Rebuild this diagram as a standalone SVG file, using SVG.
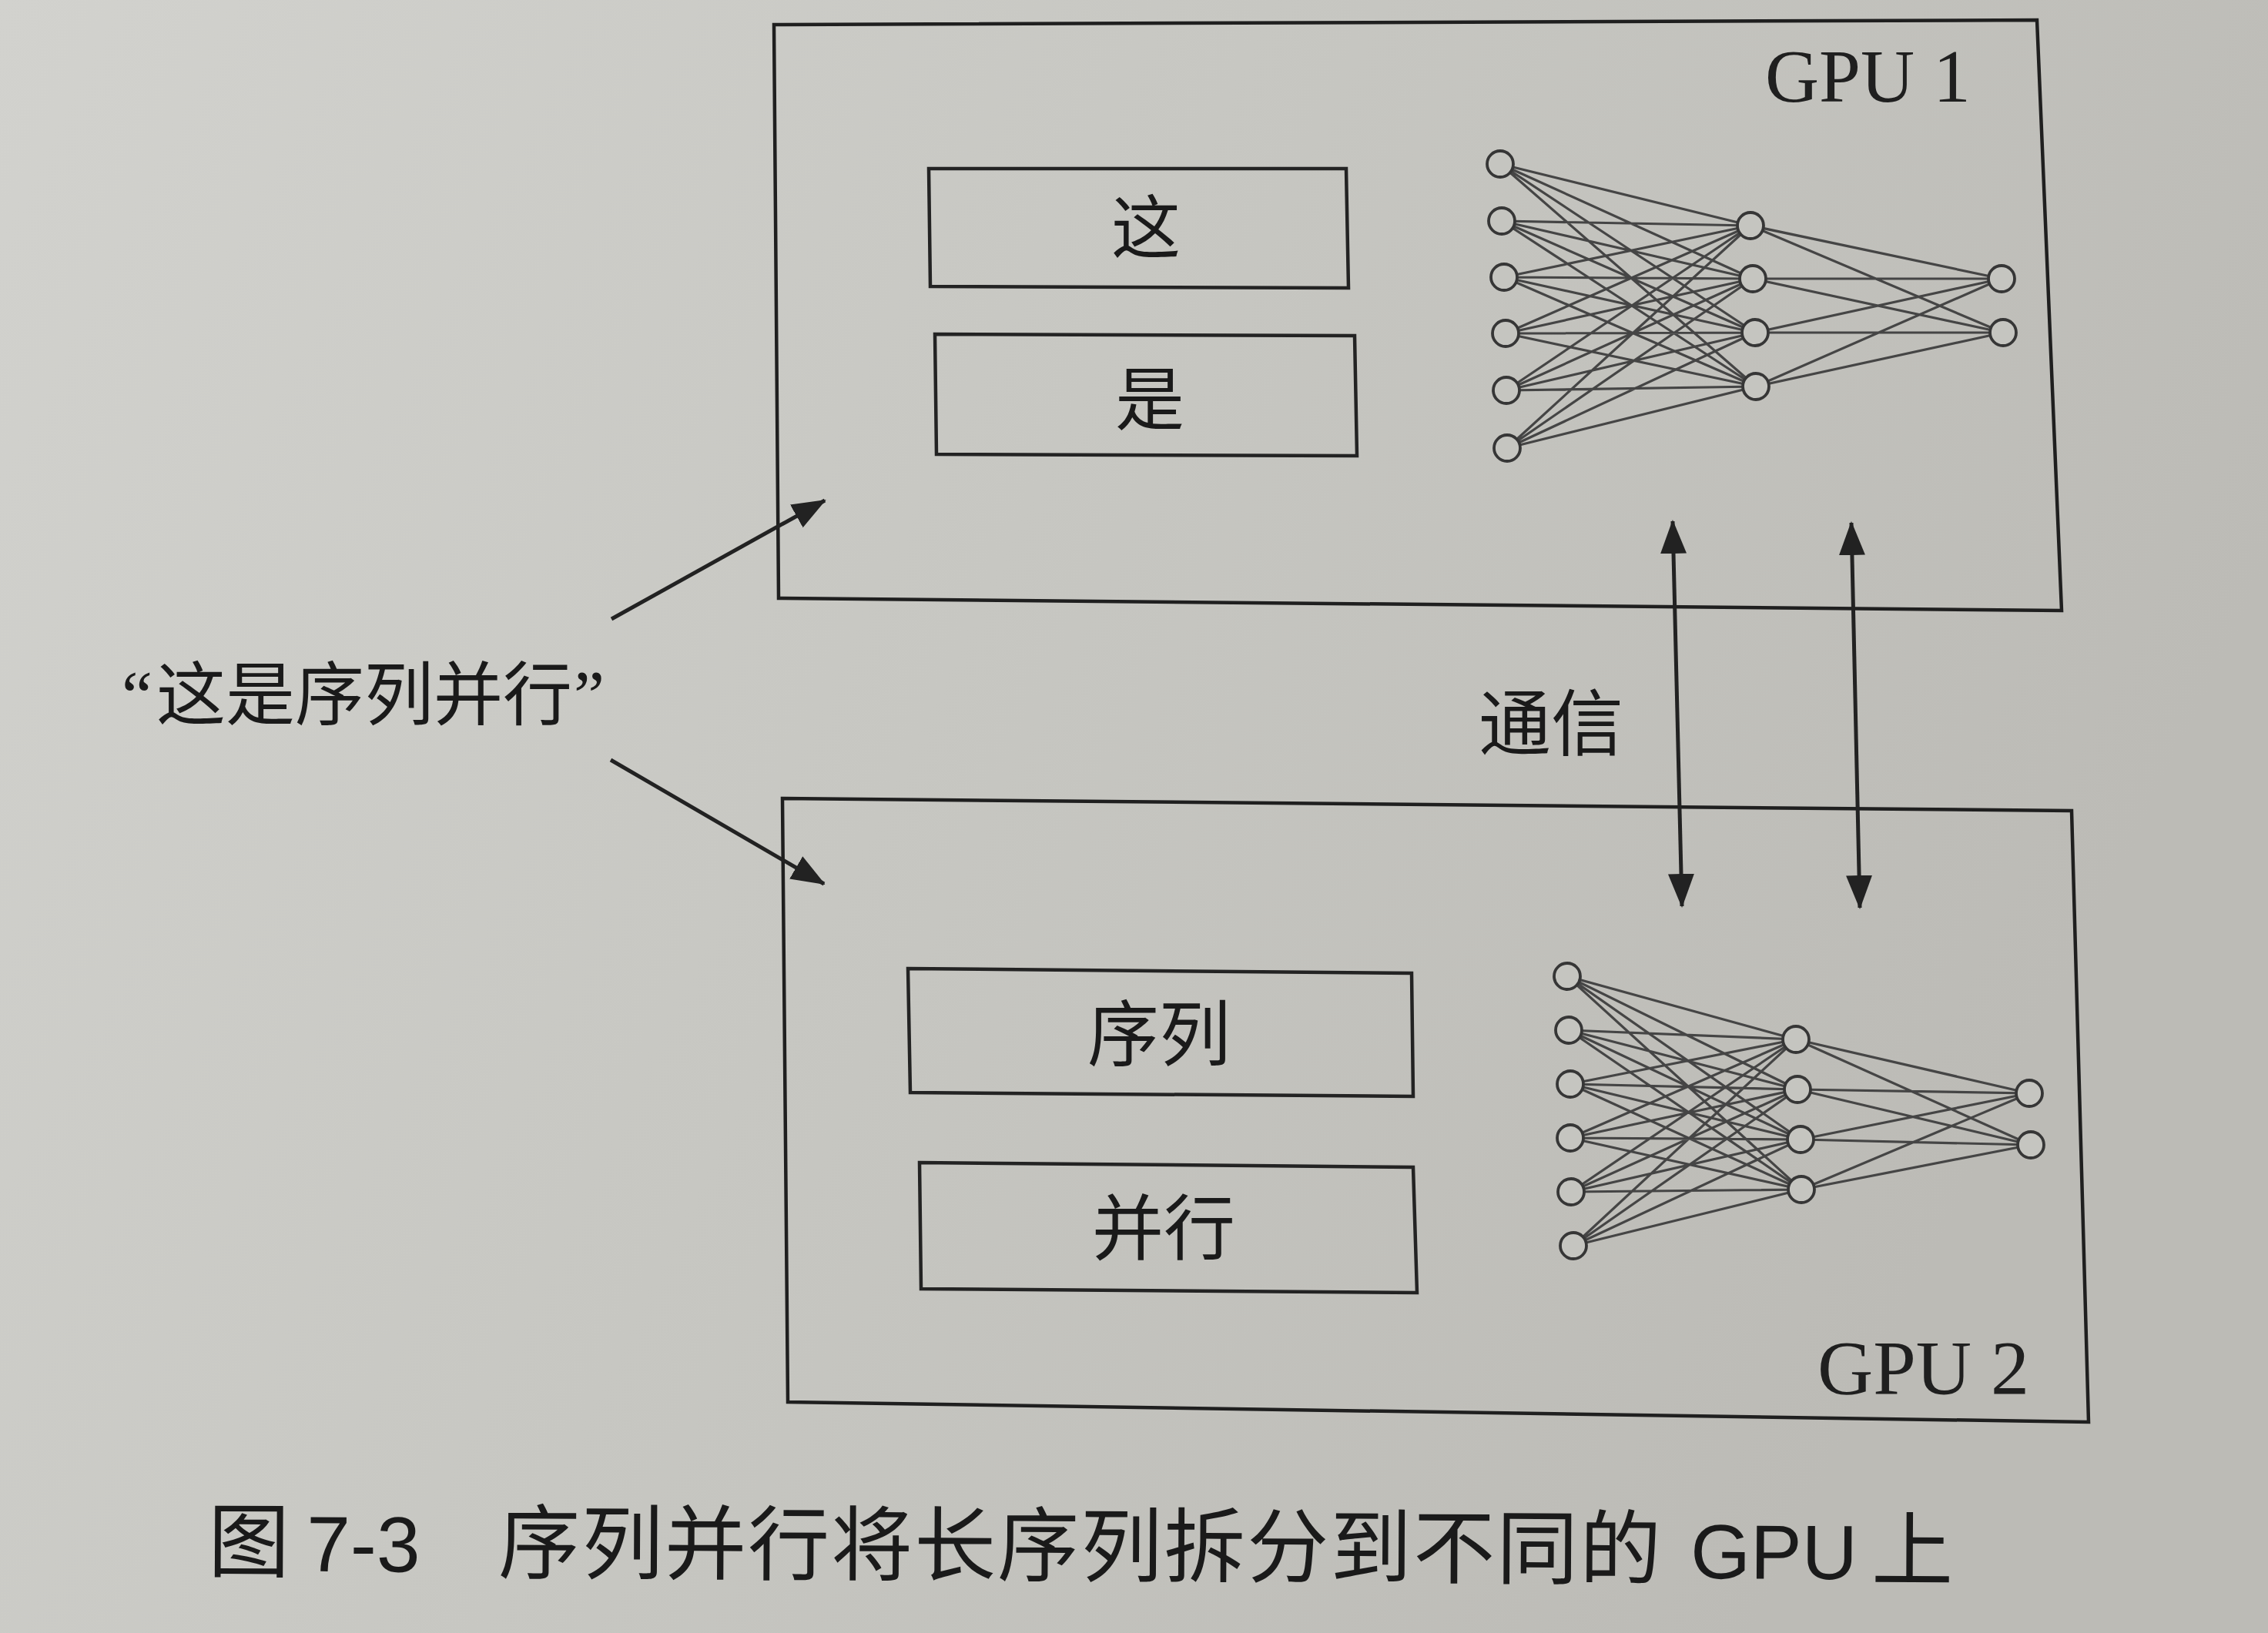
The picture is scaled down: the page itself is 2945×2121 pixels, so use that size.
<svg xmlns="http://www.w3.org/2000/svg" width="2945" height="2121" viewBox="0 0 2945 2121">
<defs>
<linearGradient id="paper" x1="0" y1="0" x2="1" y2="0.35">
<stop offset="0" stop-color="#d2d2ce"/>
<stop offset="0.5" stop-color="#c7c7c2"/>
<stop offset="1" stop-color="#bcbbb6"/>
</linearGradient>
<marker id="ah" viewBox="0 0 44 36" markerWidth="44" markerHeight="36" markerUnits="userSpaceOnUse" refX="42" refY="18" orient="auto-start-reverse">
<path d="M0,1 L44,18 L0,35 Z" fill="#222"/>
</marker>
<style>
.frame{fill:none;stroke:#1f1f1f;stroke-width:4.5;stroke-linejoin:miter}
.box{fill:none;stroke:#232323;stroke-width:4.5}
.cjk{font-family:"Noto Sans CJK SC","Noto Sans CJK TC",sans-serif;fill:#1a1a1a}
.gpu{font-family:"Liberation Serif",serif;fill:#1f1f1f}
.edge{fill:none;stroke:#454545;stroke-width:3.2}
.neuron{fill:#c5c5c0;stroke:#363636;stroke-width:3.8}
.conn{fill:none;stroke:#222;stroke-width:5}
</style>
</defs>
<rect x="0" y="0" width="2945" height="2121" fill="url(#paper)"/>

<g id="gpu1">
<path class="frame" d="M1005,32 L2645,26 L2677,793 L1011,777 Z"/>
<text class="gpu" x="2292" y="132" font-size="97">GPU 1</text>
</g>

<g id="gpu2">
<path class="frame" d="M1016,1037 L2690,1053 L2712,1847 L1023,1821 Z"/>
<text class="gpu" x="2360" y="1810" font-size="100">GPU 2</text>
</g>

<g id="box-zhe">
<path class="box" d="M1206,219 L1748,219 L1751,374 L1208,372 Z"/>
<text class="cjk" x="1488" y="328" font-size="90" text-anchor="middle">这</text>
</g>
<g id="box-shi">
<path class="box" d="M1214,434 L1759,436 L1762,592 L1216,590 Z"/>
<text class="cjk" x="1493" y="551" font-size="90" text-anchor="middle">是</text>
</g>
<g id="box-xulie">
<path class="box" d="M1179,1258 L1833,1264 L1835,1424 L1182,1419 Z"/>
<text class="cjk" x="1505" y="1377" font-size="93" text-anchor="middle">序列</text>
</g>
<g id="box-bingxing">
<path class="box" d="M1194,1510 L1835,1516 L1840,1679 L1196,1674 Z"/>
<text class="cjk" x="1511" y="1629" font-size="93" text-anchor="middle">并行</text>
</g>

<g id="nn1">
<path class="edge" d="M1948,213 L2273,293 M1948,213 L2276,362 M1948,213 L2279,432 M1948,213 L2280,502
M1950,287 L2273,293 M1950,287 L2276,362 M1950,287 L2279,432 M1950,287 L2280,502
M1953,360 L2273,293 M1953,360 L2276,362 M1953,360 L2279,432 M1953,360 L2280,502
M1955,433 L2273,293 M1955,433 L2276,362 M1955,433 L2279,432 M1955,433 L2280,502
M1956,507 L2273,293 M1956,507 L2276,362 M1956,507 L2279,432 M1956,507 L2280,502
M1957,582 L2273,293 M1957,582 L2276,362 M1957,582 L2279,432 M1957,582 L2280,502
M2273,293 L2599,362 M2273,293 L2601,432 M2276,362 L2599,362 M2276,362 L2601,432
M2279,432 L2599,362 M2279,432 L2601,432 M2280,502 L2599,362 M2280,502 L2601,432"/>
<circle class="neuron" cx="1948" cy="213" r="17"/>
<circle class="neuron" cx="1950" cy="287" r="17"/>
<circle class="neuron" cx="1953" cy="360" r="17"/>
<circle class="neuron" cx="1955" cy="433" r="17"/>
<circle class="neuron" cx="1956" cy="507" r="17"/>
<circle class="neuron" cx="1957" cy="582" r="17"/>
<circle class="neuron" cx="2273" cy="293" r="17"/>
<circle class="neuron" cx="2276" cy="362" r="17"/>
<circle class="neuron" cx="2279" cy="432" r="17"/>
<circle class="neuron" cx="2280" cy="502" r="17"/>
<circle class="neuron" cx="2599" cy="362" r="17"/>
<circle class="neuron" cx="2601" cy="432" r="17"/>
</g>

<g id="nn2">
<path class="edge" d="M2035,1268 L2332,1350 M2035,1268 L2334,1415 M2035,1268 L2338,1480 M2035,1268 L2339,1545
M2037,1338 L2332,1350 M2037,1338 L2334,1415 M2037,1338 L2338,1480 M2037,1338 L2339,1545
M2039,1408 L2332,1350 M2039,1408 L2334,1415 M2039,1408 L2338,1480 M2039,1408 L2339,1545
M2039,1478 L2332,1350 M2039,1478 L2334,1415 M2039,1478 L2338,1480 M2039,1478 L2339,1545
M2040,1548 L2332,1350 M2040,1548 L2334,1415 M2040,1548 L2338,1480 M2040,1548 L2339,1545
M2043,1618 L2332,1350 M2043,1618 L2334,1415 M2043,1618 L2338,1480 M2043,1618 L2339,1545
M2332,1350 L2635,1420 M2332,1350 L2637,1487 M2334,1415 L2635,1420 M2334,1415 L2637,1487
M2338,1480 L2635,1420 M2338,1480 L2637,1487 M2339,1545 L2635,1420 M2339,1545 L2637,1487"/>
<circle class="neuron" cx="2035" cy="1268" r="17"/>
<circle class="neuron" cx="2037" cy="1338" r="17"/>
<circle class="neuron" cx="2039" cy="1408" r="17"/>
<circle class="neuron" cx="2039" cy="1478" r="17"/>
<circle class="neuron" cx="2040" cy="1548" r="17"/>
<circle class="neuron" cx="2043" cy="1618" r="17"/>
<circle class="neuron" cx="2332" cy="1350" r="17"/>
<circle class="neuron" cx="2334" cy="1415" r="17"/>
<circle class="neuron" cx="2338" cy="1480" r="17"/>
<circle class="neuron" cx="2339" cy="1545" r="17"/>
<circle class="neuron" cx="2635" cy="1420" r="17"/>
<circle class="neuron" cx="2637" cy="1487" r="17"/>
</g>

<g id="label-sentence">
<text x="158" y="934" font-size="90"><tspan font-family="'Liberation Serif',serif" fill="#1a1a1a">“</tspan><tspan class="cjk" x="203">这是序列并行</tspan><tspan x="745" font-family="'Liberation Serif',serif" fill="#1a1a1a">”</tspan></text>
</g>

<g id="label-comm">
<text class="cjk" x="1920" y="974" font-size="94">通信</text>
</g>

<g id="connectors">
<line class="conn" x1="794" y1="804" x2="1071" y2="650" marker-end="url(#ah)"/>
<line class="conn" x1="793" y1="987" x2="1070" y2="1148" marker-end="url(#ah)"/>
<line class="conn" x1="2172" y1="677" x2="2184" y2="1177" marker-start="url(#ah)" marker-end="url(#ah)"/>
<line class="conn" x1="2404" y1="679" x2="2415" y2="1179" marker-start="url(#ah)" marker-end="url(#ah)"/>
</g>

<g id="caption" transform="rotate(0.3 272 2040)">
<text class="cjk" x="270" y="2040" font-size="106">图</text>
<text x="398" y="2040" font-size="102" font-family="'Liberation Sans',sans-serif" fill="#1a1a1a">7-3</text>
<text class="cjk" x="647" y="2040" font-size="106" letter-spacing="2">序列并行将长序列拆分到不同的</text>
<text x="2195" y="2040" font-size="100" font-family="'Liberation Sans',sans-serif" fill="#1a1a1a">GPU</text>
<text class="cjk" x="2430" y="2040" font-size="106">上</text>
</g>
</svg>
